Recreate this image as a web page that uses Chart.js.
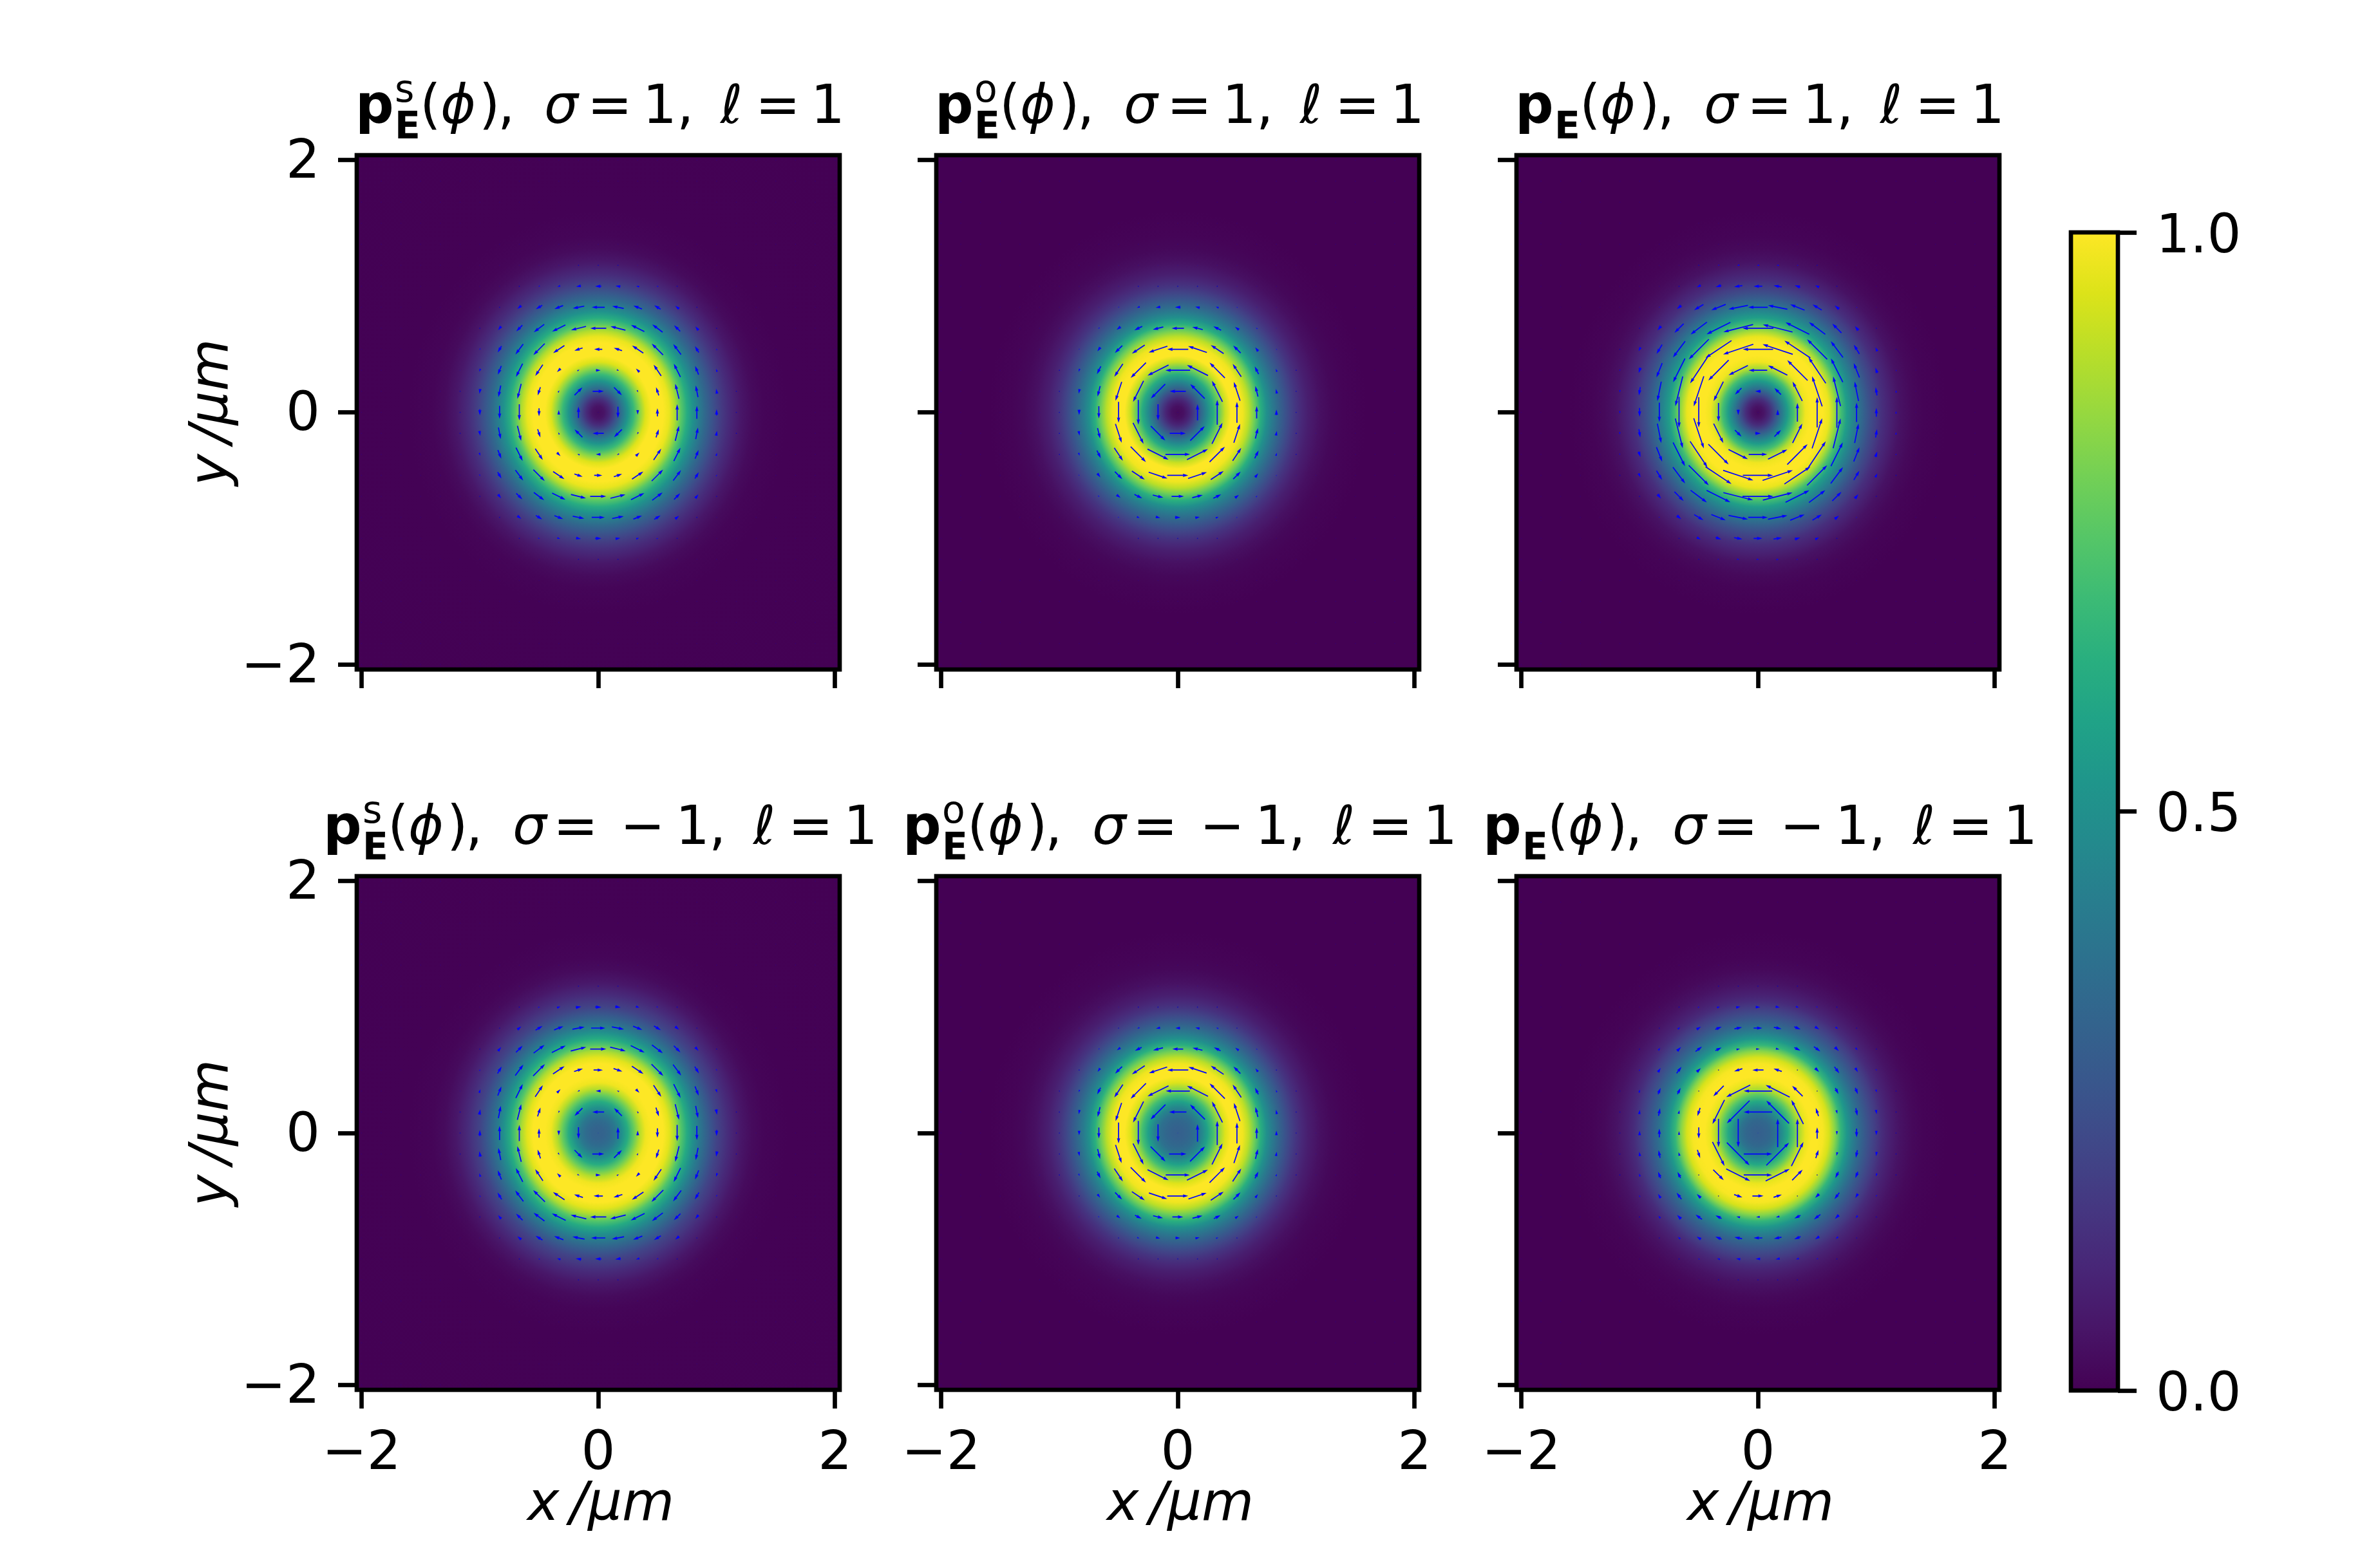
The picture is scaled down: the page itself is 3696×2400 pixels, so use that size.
<!DOCTYPE html>
<html>
<head>
<meta charset="utf-8">
<style>
    html, body { margin: 0; padding: 0; background: #ffffff; overflow: hidden; }
    #page { position: relative; width: 3696px; height: 2400px; }
    canvas { position: absolute; }
</style>
<script src="https://cdn.jsdelivr.net/npm/chart.js@4/dist/chart.umd.min.js"></script>
</head>
<body>
<div id="page"></div>
<script>
const tickValues = [-2, 0, 2];
const axisLimit = 2.04;
const colorbarTicks = [0, 0.5, 1];

// radius in um, shared by the intensity lists below
const radii = [0, 0.05, 0.1, 0.15, 0.2, 0.25, 0.3, 0.35, 0.4, 0.45, 0.5, 0.55, 0.6, 0.65, 0.7, 0.75, 0.8, 0.85, 0.9, 0.95, 1, 1.05, 1.1, 1.15, 1.2, 1.3, 1.4, 1.6, 3];

const intensityTopS = [.03, .05, .12, .24, .38, .52, .67, .82, .95, 1, 1, 1, .97, .88, .74, .62, .51, .42, .34, .27, .21, .16, .12, .09, .06, .025, .01, .002, 0];
const intensityTopO = [.02, .04, .1, .2, .34, .48, .62, .77, .92, 1, 1, .98, .9, .78, .63, .5, .41, .33, .26, .2, .15, .11, .08, .06, .04, .018, .007, .001, 0];
const intensityTopE = [.02, .05, .12, .25, .4, .55, .7, .87, .98, 1, 1, 1, .97, .85, .7, .56, .46, .38, .3, .23, .18, .13, .1, .07, .045, .02, .007, .001, 0];
const intensityBottomS = [.31, .32, .35, .4, .5, .62, .76, .89, .98, 1, 1, 1, .96, .87, .73, .61, .5, .41, .33, .26, .2, .16, .12, .09, .06, .025, .01, .002, 0];
const intensityBottomO = [.3, .31, .33, .37, .45, .57, .7, .84, .95, 1, 1, .98, .9, .78, .63, .5, .41, .33, .26, .2, .15, .11, .08, .06, .04, .018, .007, .001, 0];
const intensityBottomE = [.3, .31, .33, .38, .48, .6, .74, .88, .97, 1, 1, .99, .94, .82, .66, .53, .43, .35, .28, .22, .17, .12, .09, .065, .045, .02, .007, .001, 0];

// signed arrow strength by grid offset [larger][smaller] from the centre, + is counter-clockwise
const arrowsTopS = [[0], [-36, -36], [-15, -8, 16], [26, 28, 44, 52], [52, 50, 48, 42, 28], [42, 38, 30, 24, 16, 2], [20, 16, 10, 6, 2], [3, 2]];
const arrowsTopO = [[0], [52, 66], [80, 76, 70], [68, 64, 50, 34], [40, 35, 28, 16, 6], [18, 15, 10, 4], [2, 2, 1]];
const arrowsTopE = [[0], [18, 30], [60, 70, 93], [98, 103, 101, 92], [100, 99, 86, 66, 42], [63, 64, 50, 35, 18, 4], [28, 27, 19, 14, 3], [8, 8, 5, 1]];
const arrowsBottomS = [[0], [38, 36], [16, 8, -16], [-30, -30, -45, -54], [-52, -52, -50, -44, -30], [-46, -40, -32, -26, -16, -2], [-20, -18, -12, -6, -2], [-3, -2]];
const arrowsBottomO = [[0], [56, 68], [78, 76, 70], [68, 62, 50, 32], [35, 33, 24, 14, 5], [15, 14, 8, 3], [2, 2, 1]];
const arrowsBottomE = [[0], [92, 104], [92, 87, 48], [36, 28, 2, -18], [-12, -12, -22, -26, -18], [-28, -25, -22, -16, -10, -1], [-15, -14, -10, -6, -2], [-3, -2, -1]];

const intensitySets = [intensityTopS, intensityTopO, intensityTopE, intensityBottomS, intensityBottomO, intensityBottomE];
const arrowSets = [arrowsTopS, arrowsTopO, arrowsTopE, arrowsBottomS, arrowsBottomO, arrowsBottomE];

const viridis = ["#440154", "#481567", "#482677", "#453781", "#404788", "#39568C", "#33638D", "#2D708E", "#287D8E", "#238A8D", "#1F968B", "#20A387", "#29AF7F", "#3CBB75", "#55C667", "#73D055", "#95D840", "#B8DE29", "#DCE319", "#FDE725"];

const titleSuperscripts = ["s", "o", "", "s", "o", ""];

const frameLefts = [554, 1454, 2355];
const frameTops = [241, 1361];
const frameWidth = 750;
const frameHeights = [799, 798];
const marginLeft = 300;
const marginRight = 80;
const marginTop = 170;
const marginBottom = 238;

const FONT = '"DejaVu Sans"';
const FONT_PX = 83.3;
const LINE_W = 6.67;
const TICK_LEN = 29;
const LABEL_DROP = 6;
const COLORBAR_LABEL_DROP = 9;

// um of arrow length per unit of the arrow lists
const arrowUnit = 0.00261;
const arrowWidth = 1.7;

function hexToRgb(hex) {
    return [1, 3, 5].map(i => parseInt(hex.slice(i, i + 2), 16));
}

function colorForValue(value) {
    const pos = Math.min(Math.max(value, 0), 1) * (viridis.length - 1);
    const low = Math.floor(pos);
    const high = Math.min(low + 1, viridis.length - 1);
    const a = hexToRgb(viridis[low]);
    const b = hexToRgb(viridis[high]);
    const t = pos - low;
    const rgb = a.map((c, i) => Math.round(c + (b[i] - c) * t));
    return `rgb(${rgb[0]}, ${rgb[1]}, ${rgb[2]})`;
}

function arrowStrength(table, col, row) {
    const a = Math.max(Math.abs(col), Math.abs(row));
    const b = Math.min(Math.abs(col), Math.abs(row));
    if (!table[a]) return 0;
    return table[a][b] || 0;
}

function buildArrowPoints(table) {
    const points = [];
    for (let row = -12; row <= 12; row++) {
        for (let col = -12; col <= 12; col++) {
            points.push({ x: col / 6, y: row / 6, strength: arrowStrength(table, col, row) });
        }
    }
    return points;
}

function drawArrow(ctx, px, py, dirX, dirY, length) {
    const shrink = Math.min(1, length / (5 * arrowWidth));
    const w = arrowWidth * shrink;
    const half = length / 2;
    ctx.save();
    ctx.translate(px, py);
    ctx.transform(dirX, dirY, -dirY, dirX, 0, 0);
    ctx.beginPath();
    ctx.moveTo(-half, -w / 2);
    ctx.lineTo(half - 4.5 * w, -w / 2);
    ctx.lineTo(half - 5 * w, -1.5 * w);
    ctx.lineTo(half, 0);
    ctx.lineTo(half - 5 * w, 1.5 * w);
    ctx.lineTo(half - 4.5 * w, w / 2);
    ctx.lineTo(-half, w / 2);
    ctx.closePath();
    ctx.fill();
    ctx.restore();
}

const heatmapPlugin = {
    id: "heatmap",
    beforeDatasetsDraw(chart) {
        const { ctx, chartArea, scales } = chart;
        const points = chart.data.datasets[0].data;
        const cx = scales.x.getPixelForValue(0);
        const cy = scales.y.getPixelForValue(0);
        const rx = scales.x.getPixelForValue(1) - cx;
        const ry = cy - scales.y.getPixelForValue(1);
        const outer = points[points.length - 1].x;

        ctx.save();
        ctx.beginPath();
        ctx.rect(chartArea.left, chartArea.top, chartArea.width, chartArea.height);
        ctx.clip();
        ctx.translate(cx, cy);
        ctx.scale(rx, ry);
        const gradient = ctx.createRadialGradient(0, 0, 0, 0, 0, outer);
        points.forEach(p => gradient.addColorStop(p.x / outer, colorForValue(p.value)));
        ctx.fillStyle = gradient;
        ctx.fillRect(-axisLimit, -axisLimit, 2 * axisLimit, 2 * axisLimit);
        ctx.restore();
    },
    afterDatasetsDraw(chart) {
        const { ctx, scales } = chart;
        const umToPx = scales.x.getPixelForValue(1) - scales.x.getPixelForValue(0);

        ctx.save();
        chart.data.datasets[1].data.forEach(p => {
            const px = scales.x.getPixelForValue(p.x);
            const py = scales.y.getPixelForValue(p.y);
            const length = Math.abs(p.strength) * arrowUnit * umToPx;
            if (length < arrowWidth) {
                ctx.fillStyle = p.strength === 0 ? "rgba(0, 0, 255, 0.14)" : "rgba(0, 0, 200, 0.8)";
                ctx.beginPath();
                ctx.arc(px, py, arrowWidth / 2, 0, Math.PI * 2);
                ctx.fill();
                return;
            }
            const r = Math.hypot(p.x, p.y);
            const sign = Math.sign(p.strength);
            // screen y is flipped, so the counter-clockwise tangent is (-y, -x)
            const dirX = -sign * p.y / r;
            const dirY = -sign * p.x / r;
            ctx.fillStyle = "#0000ff";
            drawArrow(ctx, px, py, dirX, dirY, length);
        });
        ctx.restore();
    }
};

const framePlugin = {
    id: "frame",
    afterDraw(chart) {
        const { ctx, chartArea } = chart;
        ctx.save();
        ctx.strokeStyle = "#000000";
        ctx.lineWidth = LINE_W;
        ctx.strokeRect(chartArea.left, chartArea.top, chartArea.width, chartArea.height);
        ctx.restore();
    }
};

function titleRuns(index) {
    const bottom = index >= 3;
    const plain = `${FONT_PX}px ${FONT}`;
    const oblique = `italic ${FONT_PX}px ${FONT}`;
    const runs = [
        ["p", `bold ${FONT_PX}px ${FONT}`, 0, 0],
        ["E", `bold ${FONT_PX * 0.7}px ${FONT}`, 61, 24],
        [titleSuperscripts[index], `${FONT_PX * 0.7}px ${FONT}`, 61, -33],
        ["(", plain, 100, 0],
        ["\u03D5", oblique, 132, 0],
        [")", plain, 192, 0],
        [",", plain, 221, 0]
    ];
    if (bottom) {
        runs.push(["\u03C3", oblique, 294, 0], ["=", plain, 357, 0], ["\u2212", plain, 461, 0], ["1", plain, 547, 0], [",", plain, 599, 0],
            ["\u2113", oblique, 668, 0], ["=", plain, 722, 0], ["1", plain, 808, 0]);
    } else {
        runs.push(["\u03C3", oblique, 293, 0], ["=", plain, 360, 0], ["1", plain, 446, 0], [",", plain, 499, 0],
            ["\u2113", oblique, 567, 0], ["=", plain, 621, 0], ["1", plain, 707, 0]);
    }
    return runs;
}

function makeTitlePlugin(index) {
    const startOffset = index >= 3 ? -52 : -2;
    return {
        id: "panelTitle",
        afterDraw(chart) {
            const { ctx, chartArea } = chart;
            ctx.save();
            ctx.fillStyle = "#000000";
            ctx.textBaseline = "alphabetic";
            ctx.textAlign = "left";
            titleRuns(index).forEach(([text, font, dx, dy]) => {
                ctx.font = font;
                ctx.fillText(text, chartArea.left + startOffset + dx, chartArea.top - 50 + dy);
            });
            ctx.restore();
        }
    };
}

function fixedBox(width, height) {
    return scale => {
        if (width !== null) scale.width = width;
        if (height !== null) scale.height = height;
        scale.paddingLeft = 0;
        scale.paddingRight = 0;
        scale.paddingTop = 0;
        scale.paddingBottom = 0;
    };
}

function useTicks(values) {
    return scale => {
        scale.ticks = values.map(value => ({ value }));
    };
}

function makeCanvas(left, top, width, height) {
    const canvas = document.createElement("canvas");
    canvas.width = width;
    canvas.height = height;
    canvas.style.left = `${left}px`;
    canvas.style.top = `${top}px`;
    canvas.style.width = `${width}px`;
    canvas.style.height = `${height}px`;
    document.getElementById("page").appendChild(canvas);
    return canvas.getContext("2d");
}

function tickLabel(value) {
    return String(value).replace("-", "\u2212");
}

function drawPanel(index) {
    const col = index % 3;
    const row = index >= 3 ? 1 : 0;
    const frameHeight = frameHeights[row];
    const ctx = makeCanvas(
        frameLefts[col] - marginLeft,
        frameTops[row] - marginTop,
        marginLeft + frameWidth + marginRight,
        marginTop + frameHeight + marginBottom
    );
    const showXLabels = row === 1;
    const showYLabels = col === 0;
    const tickGrid = {
        display: true,
        drawOnChartArea: false,
        drawTicks: true,
        tickLength: TICK_LEN,
        tickWidth: LINE_W,
        tickColor: "#000000"
    };
    const tickFont = { family: "DejaVu Sans", size: FONT_PX };

    new Chart(ctx, {
        type: "scatter",
        data: {
            datasets: [
                {
                    label: "intensity",
                    data: radii.map((r, i) => ({ x: r, y: 0, value: intensitySets[index][i] })),
                    pointRadius: 0
                },
                {
                    label: "polarisation",
                    data: buildArrowPoints(arrowSets[index]),
                    pointRadius: 0
                }
            ]
        },
        options: {
            responsive: false,
            animation: false,
            devicePixelRatio: 1,
            layout: { padding: { top: marginTop, right: marginRight, left: 0, bottom: 0 } },
            plugins: { legend: { display: false }, tooltip: { enabled: false } },
            scales: {
                x: {
                    type: "linear",
                    min: -axisLimit,
                    max: axisLimit,
                    afterBuildTicks: useTicks(tickValues),
                    afterFit: fixedBox(null, marginBottom),
                    grid: tickGrid,
                    border: { display: false },
                    ticks: {
                        display: showXLabels,
                        autoSkip: false,
                        maxRotation: 0,
                        padding: 22,
                        color: "#000000",
                        font: tickFont,
                        callback: tickLabel
                    },
                    title: {
                        display: showXLabels,
                        text: "\u200Ax\u2009/\u00B5m",
                        color: "#000000",
                        padding: { top: 0, bottom: 8 },
                        font: { family: "DejaVu Sans", size: FONT_PX, style: "italic" }
                    }
                },
                y: {
                    type: "linear",
                    min: -axisLimit,
                    max: axisLimit,
                    afterBuildTicks: useTicks(tickValues),
                    afterFit: fixedBox(marginLeft, null),
                    grid: tickGrid,
                    border: { display: false },
                    ticks: {
                        display: showYLabels,
                        autoSkip: false,
                        padding: 28,
                        labelOffset: LABEL_DROP,
                        color: "#000000",
                        font: tickFont,
                        callback: tickLabel
                    },
                    title: {
                        display: showYLabels,
                        text: "y\u2009/\u00B5m",
                        color: "#000000",
                        padding: { top: 27, bottom: 27 },
                        font: { family: "DejaVu Sans", size: FONT_PX, style: "italic" }
                    }
                }
            }
        },
        plugins: [heatmapPlugin, framePlugin, makeTitlePlugin(index)]
    });
}

const colorbarPlugin = {
    id: "colorbar",
    beforeDatasetsDraw(chart) {
        const { ctx, chartArea, scales } = chart;
        const gradient = ctx.createLinearGradient(0, scales.y.getPixelForValue(0), 0, scales.y.getPixelForValue(1));
        chart.data.datasets[0].data.forEach(p => gradient.addColorStop(p.y, colorForValue(p.y)));
        ctx.save();
        ctx.fillStyle = gradient;
        ctx.fillRect(chartArea.left, chartArea.top, chartArea.width, chartArea.height);
        ctx.restore();
    }
};

function drawColorbar() {
    const left = 3216;
    const top = 361;
    const barWidth = 73;
    const barHeight = 1799;
    const rightRoom = 300;
    const ctx = makeCanvas(left - 20, top - 60, 20 + barWidth + rightRoom, 60 + barHeight + 60);

    new Chart(ctx, {
        type: "scatter",
        data: {
            datasets: [{
                label: "colorbar",
                data: viridis.map((c, i) => ({ x: 0, y: i / (viridis.length - 1) })),
                pointRadius: 0
            }]
        },
        options: {
            responsive: false,
            animation: false,
            devicePixelRatio: 1,
            layout: { padding: { top: 60, bottom: 60, left: 20, right: 0 } },
            plugins: { legend: { display: false }, tooltip: { enabled: false } },
            scales: {
                x: { type: "linear", display: false },
                y: {
                    type: "linear",
                    position: "right",
                    min: 0,
                    max: 1,
                    afterBuildTicks: useTicks(colorbarTicks),
                    afterFit: fixedBox(rightRoom, null),
                    grid: {
                        display: true,
                        drawOnChartArea: false,
                        drawTicks: true,
                        tickLength: TICK_LEN,
                        tickWidth: LINE_W,
                        tickColor: "#000000"
                    },
                    border: { display: false },
                    ticks: {
                        autoSkip: false,
                        padding: 30,
                        labelOffset: COLORBAR_LABEL_DROP,
                        color: "#000000",
                        font: { family: "DejaVu Sans", size: FONT_PX },
                        callback: value => value.toFixed(1)
                    }
                }
            }
        },
        plugins: [colorbarPlugin, framePlugin]
    });
}

for (let i = 0; i < 6; i++) {
    drawPanel(i);
}
drawColorbar();
</script>
</body>
</html>
